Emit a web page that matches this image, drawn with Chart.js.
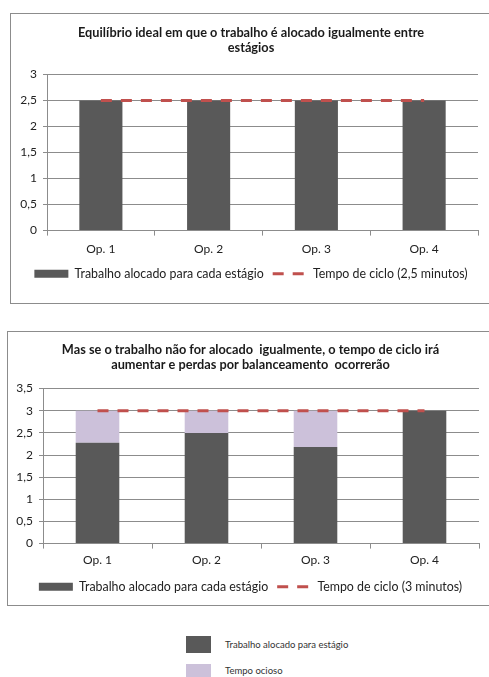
<!DOCTYPE html>
<html>
<head>
<meta charset="utf-8">
<script src="https://cdn.jsdelivr.net/npm/chart.js@4.4.1/dist/chart.umd.min.js"></script>
<style>
  body { margin: 0; background: #fff; font-family: Lato, sans-serif; }
  .box { position: absolute; border: 1px solid #8c8c8c; background: #fff; }
  .box canvas { display: block; }
  .key { position: absolute; width: 25px; }
  .keytxt { position: absolute; font-size: 9.5px; color: #333; line-height: 12px; }
</style>
</head>
<body>
<div class="box" id="box1" style="left:10px; top:13px; width:480px; height:289px;"><canvas id="chart1"></canvas></div>
<div class="box" id="box2" style="left:7px; top:331px; width:485px; height:273px;"><canvas id="chart2"></canvas></div>

<div class="key" style="left:186px; top:636px; height:17px; background:#595959;"></div>
<div class="keytxt" style="left:225px; top:639px;">Trabalho alocado para estágio</div>
<div class="key" style="left:186px; top:664px; height:14px; background:#ccc1da;"></div>
<div class="keytxt" style="left:225px; top:665px;">Tempo ocioso</div>

<script>
var categories = ['Op. 1', 'Op. 2', 'Op. 3', 'Op. 4'];

// grafico 1 - balanceamento ideal
var title1 = ['Equilíbrio ideal em que o trabalho é alocado igualmente entre', 'estágios'];
var trabalho1 = [2.5, 2.5, 2.5, 2.5];
var ciclo1 = [2.5, 2.5, 2.5, 2.5];

// grafico 2 - trabalho desbalanceado
var title2 = ['Mas se o trabalho não for alocado  igualmente, o tempo de ciclo irá', 'aumentar e perdas por balanceamento  ocorrerão'];
var trabalho2 = [2.28, 2.5, 2.18, 3];
var ocioso2 = [0.72, 0.5, 0.82, 0];
var ciclo2 = [3, 3, 3, 3];

var DARK = '#595959';
var LILAC = '#ccc1da';
var RED = '#c0504d';
var GRID = '#8c8c8c';

Chart.defaults.font.family = 'Lato, sans-serif';
Chart.defaults.color = '#222';

function legendLabels(chart) {
    var items = Chart.defaults.plugins.legend.labels.generateLabels(chart);
    return items.filter(function (item) {
        return item.text !== 'Tempo ocioso';
    }).map(function (item) {
        var ds = chart.data.datasets[item.datasetIndex];
        if (ds.type === 'line') {
            item.pointStyle = 'line';
            item.strokeStyle = RED;
            item.lineWidth = 3;
            item.lineDash = [11, 9];
        } else {
            item.pointStyle = 'rect';
            item.lineWidth = 0;
        }
        return item;
    });
}

// an empty axis on the right keeps a margin there without moving the centred title / legend
function makeOptions(title, yMax, pad) {
    return {
        responsive: true,
        maintainAspectRatio: false,
        animation: false,
        layout: { padding: { left: 0, right: 0, top: 0, bottom: pad.bottom } },
        plugins: {
            title: {
                display: true,
                text: title,
                font: { size: 12.75, weight: 'bold' },
                lineHeight: pad.titleLine,
                color: '#1a1a1a',
                padding: { top: pad.titleTop, bottom: pad.titleBottom }
            },
            legend: {
                position: 'bottom',
                labels: {
                    usePointStyle: true,
                    pointStyleWidth: 34,
                    boxHeight: 8,
                    padding: 9,
                    font: { size: 12.4 },
                    color: '#222',
                    generateLabels: legendLabels,
                    sort: function (a, b) { return a.datasetIndex - b.datasetIndex; }
                }
            },
            tooltip: { enabled: false }
        },
        scales: {
            x: {
                stacked: true,
                offset: true,
                grid: { offset: true, drawOnChartArea: false, color: GRID, tickLength: 5 },
                border: { color: GRID },
                ticks: { font: { size: 12 }, padding: pad.xPad, color: '#222' },
                afterFit: function (s) { s.height = pad.xHeight; }
            },
            y: {
                stacked: true,
                min: 0,
                max: yMax,
                grid: { color: GRID, tickLength: 4 },
                border: { color: GRID },
                ticks: {
                    stepSize: 0.5,
                    font: { size: 12 },
                    padding: 6,
                    color: '#222',
                    callback: function (v) { return String(v).replace('.', ','); }
                },
                afterFit: function (s) { s.width = pad.yWidth; }
            },
            margem: {
                position: 'right',
                display: true,
                min: 0,
                max: yMax,
                grid: { display: false },
                border: { display: false },
                ticks: { display: false },
                afterFit: function (s) { s.width = pad.right; }
            }
        }
    };
}

new Chart(document.getElementById('chart1'), {
    type: 'bar',
    data: {
        labels: categories,
        datasets: [{
            label: 'Trabalho alocado para cada estágio',
            data: trabalho1,
            backgroundColor: DARK,
            categoryPercentage: 1,
            barPercentage: 0.4,
            order: 1
        }, {
            type: 'line',
            label: 'Tempo de ciclo (2,5 minutos)',
            data: ciclo1,
            stack: 'ciclo',
            borderColor: RED,
            backgroundColor: RED,
            borderWidth: 3,
            borderDash: [11, 9],
            pointRadius: 0,
            fill: false,
            order: 0
        }]
    },
    options: makeOptions(title1, 3, { right: 13, yWidth: 36, bottom: 13, titleTop: 11, titleBottom: 19, titleLine: 1.25, xHeight: 28, xPad: 6 })
});

new Chart(document.getElementById('chart2'), {
    type: 'bar',
    data: {
        labels: categories,
        datasets: [{
            label: 'Trabalho alocado para cada estágio',
            data: trabalho2,
            backgroundColor: DARK,
            categoryPercentage: 1,
            barPercentage: 0.4,
            order: 1
        }, {
            label: 'Tempo ocioso',
            data: ocioso2,
            backgroundColor: LILAC,
            categoryPercentage: 1,
            barPercentage: 0.4,
            order: 1
        }, {
            type: 'line',
            label: 'Tempo de ciclo (3 minutos)',
            data: ciclo2,
            stack: 'ciclo',
            borderColor: RED,
            backgroundColor: RED,
            borderWidth: 3,
            borderDash: [11, 9],
            pointRadius: 0,
            fill: false,
            order: 0
        }]
    },
    options: makeOptions(title2, 3.5, { right: 14, yWidth: 35, bottom: 2, titleTop: 10, titleBottom: 16, titleLine: 1.2, xHeight: 28, xPad: 4 })
});
</script>
</body>
</html>
